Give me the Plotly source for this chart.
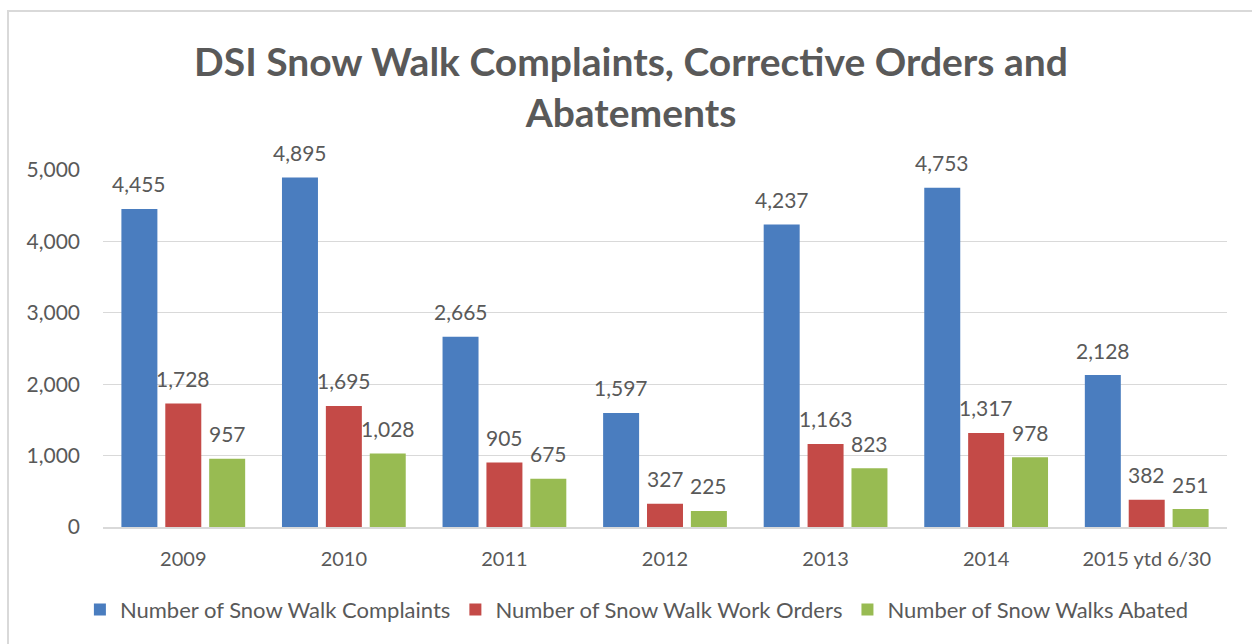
import plotly.graph_objects as go

categories = ["2009", "2010", "2011", "2012", "2013", "2014", "2015 ytd 6/30"]
complaints = [4455, 4895, 2665, 1597, 4237, 4753, 2128]
work_orders = [1728, 1695, 905, 327, 1163, 1317, 382]
abated = [957, 1028, 675, 225, 823, 978, 251]

series_names = ["Number of Snow Walk Complaints", "Number of Snow Walk Work Orders",
                "Number of Snow Walks Abated"]
series_values = [complaints, work_orders, abated]
series_colors = ["#4A7DBF", "#C44A47", "#98BB52"]

FONT = "Lato"
TXT = "#595959"
BARGAP = 0.18

fig = go.Figure()
for name, vals, col in zip(series_names, series_values, series_colors):
    fig.add_trace(go.Bar(x=categories, y=vals, name=name,
                         marker=dict(color=col, line=dict(width=0))))

# data labels as annotations (offset within group computed from bargap)
slot = (1 - BARGAP) / len(series_values)
annotations = []
for si, vals in enumerate(series_values):
    off = (si - (len(series_values) - 1) / 2) * slot
    for ci, v in enumerate(vals):
        annotations.append(dict(x=ci + off, y=v, xref="x", yref="y",
                                text=f"{v:,}", showarrow=False, yanchor="middle",
                                yshift=25, font=dict(family=FONT, size=21, color=TXT)))

fig.update_layout(
    width=1252, height=644,
    paper_bgcolor="white", plot_bgcolor="white",
    margin=dict(l=103, r=25, t=170, b=117),
    barmode="group", bargap=BARGAP, bargroupgap=0.18,
    title=dict(text="DSI Snow Walk Complaints, Corrective Orders and<br>Abatements",
               x=0.504, xanchor="center", y=1 - 76 / 644, yanchor="middle",
               font=dict(family=FONT, size=39, color=TXT, weight="bold")),
    font=dict(family=FONT, color=TXT),
    xaxis=dict(type="category", showgrid=False, showline=True, linecolor="#D9D9D9",
               linewidth=1.5, ticks="", tickfont=dict(family=FONT, size=20, color=TXT),
               ticklabelstandoff=13),
    yaxis=dict(range=[0, 5000], dtick=1000, tickformat=",d", showgrid=True,
               gridcolor="#D9D9D9", gridwidth=1, zeroline=False, showline=False,
               ticks="", tickfont=dict(family=FONT, size=21, color=TXT),
               ticklabelstandoff=22),
    legend=dict(orientation="h", x=0.475, xanchor="center", y=-0.232, yanchor="middle",
                font=dict(family=FONT, size=22, color=TXT), itemwidth=30,
                traceorder="normal"),
    annotations=annotations,
    shapes=[dict(type="rect", xref="paper", yref="paper",
                 x0=(8 - 103) / 1124, x1=1.2, y0=-0.6, y1=(527 - 11) / 357,
                 line=dict(color="#D9D9D9", width=2), layer="below")],
)

fig.write_html("out.html", config={"displayModeBar": False},
               post_script="document.body.style.margin='0';document.body.style.overflow='hidden';")
